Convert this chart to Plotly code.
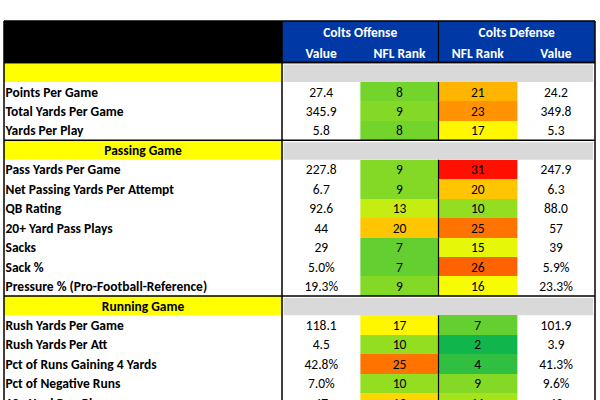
import numpy as np
import plotly.graph_objects as go

# table content, row by row (section rows have None values)
labels = ["", "Points Per Game", "Total Yards Per Game", "Yards Per Play",
          "Passing Game", "Pass Yards Per Game", "Net Passing Yards Per Attempt",
          "QB Rating", "20+ Yard Pass Plays", "Sacks", "Sack %",
          "Pressure % (Pro-Football-Reference)",
          "Running Game", "Rush Yards Per Game", "Rush Yards Per Att",
          "Pct of Runs Gaining 4 Yards", "Pct of Negative Runs", "10+ Yard Run Plays"]
is_section = [True, False, False, False,
              True, False, False, False, False, False, False, False,
              True, False, False, False, False, False]
off_value = [None, "27.4", "345.9", "5.8",
             None, "227.8", "6.7", "92.6", "44", "29", "5.0%", "19.3%",
             None, "118.1", "4.5", "42.8%", "7.0%", "47"]
off_rank = [None, 8, 9, 8,
            None, 9, 9, 13, 20, 7, 7, 9,
            None, 17, 10, 25, 10, 19]
def_rank = [None, 21, 23, 17,
            None, 31, 20, 10, 25, 15, 26, 16,
            None, 7, 2, 4, 9, 11]
def_value = [None, "24.2", "349.8", "5.3",
             None, "247.9", "6.3", "88.0", "57", "39", "5.9%", "23.3%",
             None, "101.9", "3.9", "41.3%", "9.6%", "43"]
group_titles = ["Colts Offense", "Colts Defense"]
col_titles = ["Value", "NFL Rank", "NFL Rank", "Value"]

# geometry (pixel-like units on hidden axes)
TOP, HEAD_H, ROW_H = 21, 41.5, 19.45
col_edges = [4, 282, 360.5, 438.5, 517, 595]
col_mid = [(col_edges[i] + col_edges[i + 1]) / 2 for i in range(5)]
body_top = TOP + HEAD_H
n = len(labels)
row_y = [body_top + ROW_H * (i + 0.5) for i in range(n)]
text_y = [y + 1.5 for y in row_y]  # text sits a touch low in the cells
bottom = body_top + ROW_H * n

FONT = "Carlito, Calibri, Roboto, sans-serif"

fig = go.Figure()

# rank cells coloured through a green-yellow-red scale
z = np.array([[np.nan if a is None else a, np.nan if b is None else b]
              for a, b in zip(off_rank, def_rank)], dtype=float)
fig.add_trace(go.Heatmap(
    x=[col_mid[2], col_mid[3]], y=row_y, z=z,
    zmin=1, zmax=32,
    colorscale=[[0, "#00B050"], [0.5, "#FFFF00"], [1, "#FF0000"]],
    showscale=False, hoverinfo="skip"))

shapes = []
# header fills
shapes.append(dict(type="rect", x0=col_edges[0], x1=col_edges[1], y0=TOP, y1=body_top,
                   fillcolor="black", line_width=0, layer="below"))
shapes.append(dict(type="rect", x0=col_edges[1], x1=col_edges[5], y0=TOP, y1=body_top,
                   fillcolor="#0039A6", line_width=0, layer="below"))
# section rows
for i, sec in enumerate(is_section):
    if not sec:
        continue
    y0 = body_top + ROW_H * i
    shapes.append(dict(type="rect", x0=col_edges[0], x1=col_edges[1], y0=y0, y1=y0 + ROW_H,
                       fillcolor="#FFFF00", line_width=0, layer="below"))
    shapes.append(dict(type="rect", x0=col_edges[1] + 1.5, x1=col_edges[5] - 2, y0=y0 + 2,
                       y1=y0 + ROW_H, fillcolor="#D9D9D9", line_width=0, layer="below"))
    shapes.append(dict(type="line", x0=col_edges[0], x1=col_edges[5], y0=y0, y1=y0,
                       line=dict(color="black", width=1.5), layer="above"))
# vertical borders
shapes.append(dict(type="line", x0=col_edges[0], x1=col_edges[0], y0=TOP, y1=bottom,
                   line=dict(color="black", width=1.5), layer="above"))
shapes.append(dict(type="line", x0=col_edges[1], x1=col_edges[1], y0=TOP, y1=bottom,
                   line=dict(color="black", width=1.5), layer="above"))
shapes.append(dict(type="line", x0=col_edges[5], x1=col_edges[5], y0=TOP, y1=bottom,
                   line=dict(color="black", width=1.5), layer="above"))
shapes.append(dict(type="line", x0=col_edges[3], x1=col_edges[3], y0=TOP, y1=body_top,
                   line=dict(color="black", width=1.2), layer="above"))
for i, sec in enumerate(is_section):
    if sec:
        continue
    y0 = body_top + ROW_H * i
    shapes.append(dict(type="line", x0=col_edges[3], x1=col_edges[3], y0=y0, y1=y0 + ROW_H,
                       line=dict(color="black", width=1.2), layer="above"))
shapes.append(dict(type="line", x0=col_edges[0], x1=col_edges[5], y0=TOP, y1=TOP,
                   line=dict(color="black", width=1.5), layer="above"))
shapes.append(dict(type="line", x0=col_edges[0], x1=col_edges[5], y0=body_top, y1=body_top,
                   line=dict(color="black", width=1.5), layer="above"))

# header text
fig.add_trace(go.Scatter(
    x=[(col_edges[1] + col_edges[3]) / 2, (col_edges[3] + col_edges[5]) / 2],
    y=[TOP + 13, TOP + 13], text=group_titles, mode="text",
    textfont=dict(family=FONT, size=13.5, color="white", weight="bold"),
    hoverinfo="skip"))
fig.add_trace(go.Scatter(
    x=col_mid[1:], y=[TOP + 33.5] * 4, text=col_titles, mode="text",
    textfont=dict(family=FONT, size=13.5, color="white", weight="bold"),
    hoverinfo="skip"))

# row labels
lab_x, lab_y, lab_t = [], [], []
sec_x, sec_y, sec_t = [], [], []
for i, (lab, sec) in enumerate(zip(labels, is_section)):
    if sec:
        sec_x.append(col_mid[0]); sec_y.append(text_y[i]); sec_t.append(lab)
    else:
        lab_x.append(col_edges[0] + 1.5); lab_y.append(text_y[i]); lab_t.append(lab)
fig.add_trace(go.Scatter(x=lab_x, y=lab_y, text=lab_t, mode="text", textposition="middle right",
                         textfont=dict(family=FONT, size=13.5, color="black", weight="bold"),
                         hoverinfo="skip"))
fig.add_trace(go.Scatter(x=sec_x, y=sec_y, text=sec_t, mode="text",
                         textfont=dict(family=FONT, size=13.5, color="black", weight="bold"),
                         hoverinfo="skip"))

# cell values
for k, col in enumerate([off_value, off_rank, def_rank, def_value]):
    xs, ys, ts = [], [], []
    for i, v in enumerate(col):
        if v is None:
            continue
        xs.append(col_mid[k + 1]); ys.append(text_y[i]); ts.append(str(v))
    fig.add_trace(go.Scatter(x=xs, y=ys, text=ts, mode="text",
                             textfont=dict(family=FONT, size=13.5, color="black"),
                             hoverinfo="skip"))

fig.update_layout(
    width=600, height=400, margin=dict(l=0, r=0, t=0, b=0),
    paper_bgcolor="white", plot_bgcolor="white", showlegend=False,
    shapes=shapes,
    xaxis=dict(range=[0, 600], visible=False, fixedrange=True),
    yaxis=dict(range=[400, 0], visible=False, fixedrange=True),
)
# drop the default 8px page margin so the figure sits at the window corner
fig.write_html("out.html", config={"displayModeBar": False},
               post_script="document.body.style.margin = '0px';")
